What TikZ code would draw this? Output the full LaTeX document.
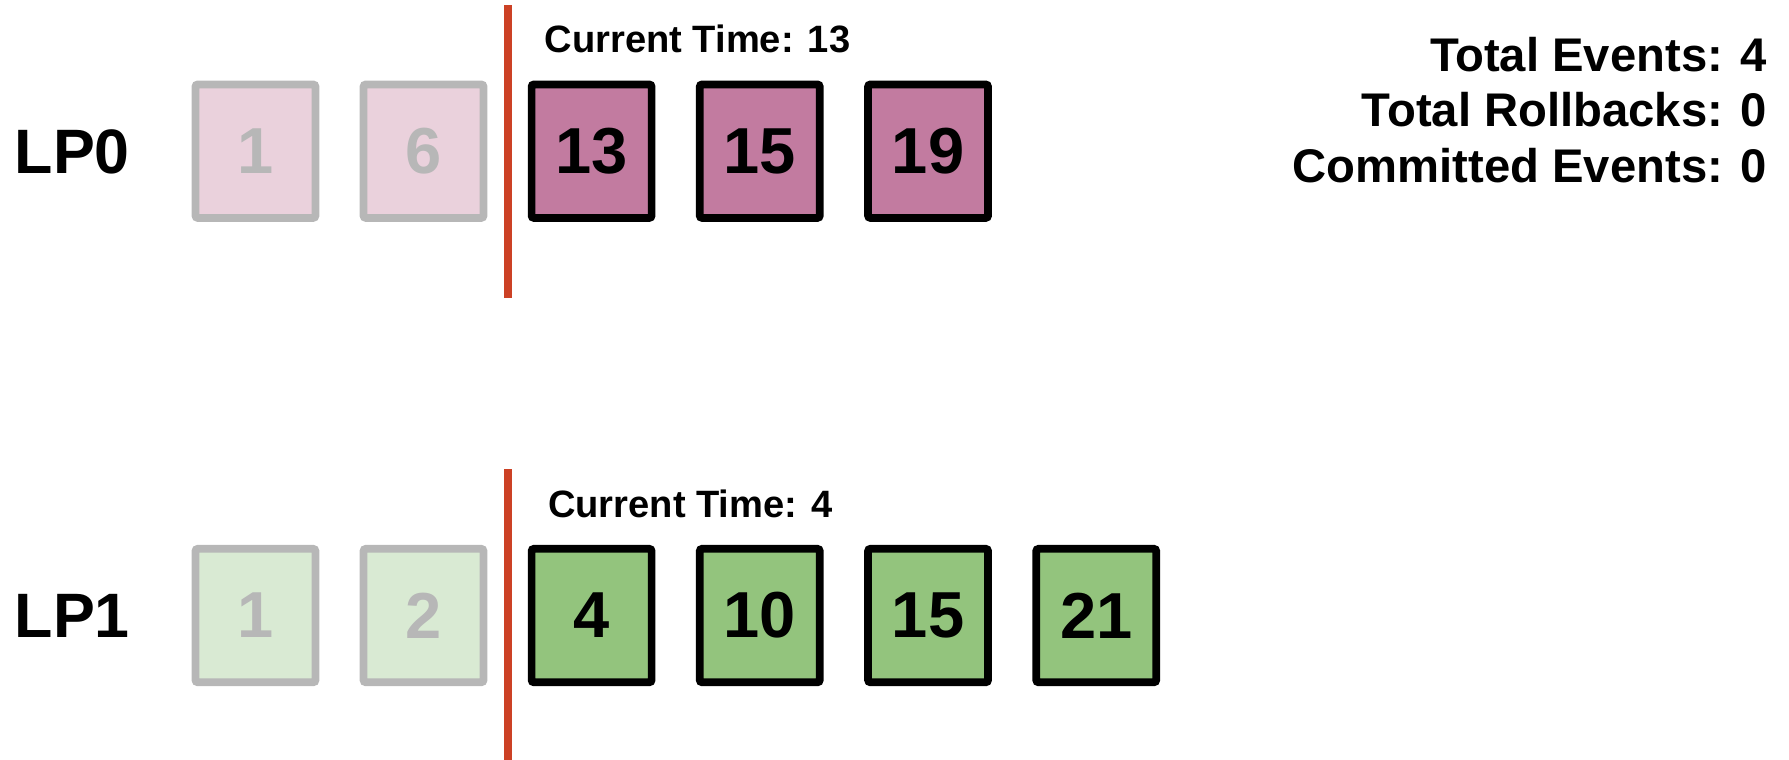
\documentclass[tikz,border=0pt]{standalone}
\usepackage{fontspec}
\setmainfont{Liberation Sans}
\definecolor{pinkA}{HTML}{C27BA0}
\definecolor{pinkL}{HTML}{EAD1DC}
\definecolor{greenA}{HTML}{93C47D}
\definecolor{greenL}{HTML}{D9EAD3}
\definecolor{fadeg}{HTML}{B7B7B7}
\definecolor{redline}{HTML}{CC4125}
\tikzset{
  evbox/.style={draw=black, line width=3.35pt, rounded corners=1pt, minimum width=52.6pt, minimum height=58.5pt, inner sep=0pt, font=\fontsize{28.5}{28.5}\selectfont\bfseries},
  oldbox/.style={evbox, draw=fadeg, text=fadeg},
  lplabel/.style={anchor=west, inner sep=0pt, font=\fontsize{27.5}{27.5}\selectfont\bfseries},
  timelabel/.style={anchor=west, inner sep=0pt, font=\fontsize{16.7}{16.7}\selectfont\bfseries},
  statlabel/.style={anchor=east, inner sep=0pt, font=\fontsize{20.7}{20.7}\selectfont\bfseries},
  nowline/.style={draw=redline, line width=3.4pt}
}
\begin{document}
\begin{tikzpicture}[x=0.5pt, y=-0.5pt]
\useasboundingbox (0,0) rectangle (1568,666);
% LP0
\node[lplabel] (lp0) at (12.5,133) {LP0};
\node[oldbox, fill=pinkL] (a1) at (223.9,132.5) {1};
\node[oldbox, fill=pinkL] (a2) at (371.2,132.5) {6};
\node[evbox, fill=pinkA] (a3) at (518.5,132.5) {13};
\node[evbox, fill=pinkA] (a4) at (665.9,132.5) {15};
\node[evbox, fill=pinkA] (a5) at (813.4,132.5) {19};
\node[timelabel] (t0) at (477,34) {Current Time: 13};
\coordinate (l0a) at (445,4.4);
\coordinate (l0b) at (445,261);
\draw[nowline] (l0a) -- (l0b);
% LP1
\node[lplabel] (lp1) at (12.5,540) {LP1};
\node[oldbox, fill=greenL] (b1) at (223.9,539.5) {1};
\node[oldbox, fill=greenL] (b2) at (371.2,539.5) {2};
\node[evbox, fill=greenA] (b3) at (518.5,539.5) {4};
\node[evbox, fill=greenA] (b4) at (665.9,539.5) {10};
\node[evbox, fill=greenA] (b5) at (813.4,539.5) {15};
\node[evbox, fill=greenA] (b6) at (960.8,539.5) {21};
\node[timelabel] (t1) at (480,441.8) {Current Time: 4};
\coordinate (l1a) at (445,411.3);
\coordinate (l1b) at (445,666);
\draw[nowline] (l1a) -- (l1b);
% stats
\node[statlabel] (s1) at (1549,47.8) {Total Events: 4};
\node[statlabel] (s2) at (1549,96.3) {Total Rollbacks: 0};
\node[statlabel] (s3) at (1549,144.9) {Committed Events: 0};
\end{tikzpicture}
\end{document}
